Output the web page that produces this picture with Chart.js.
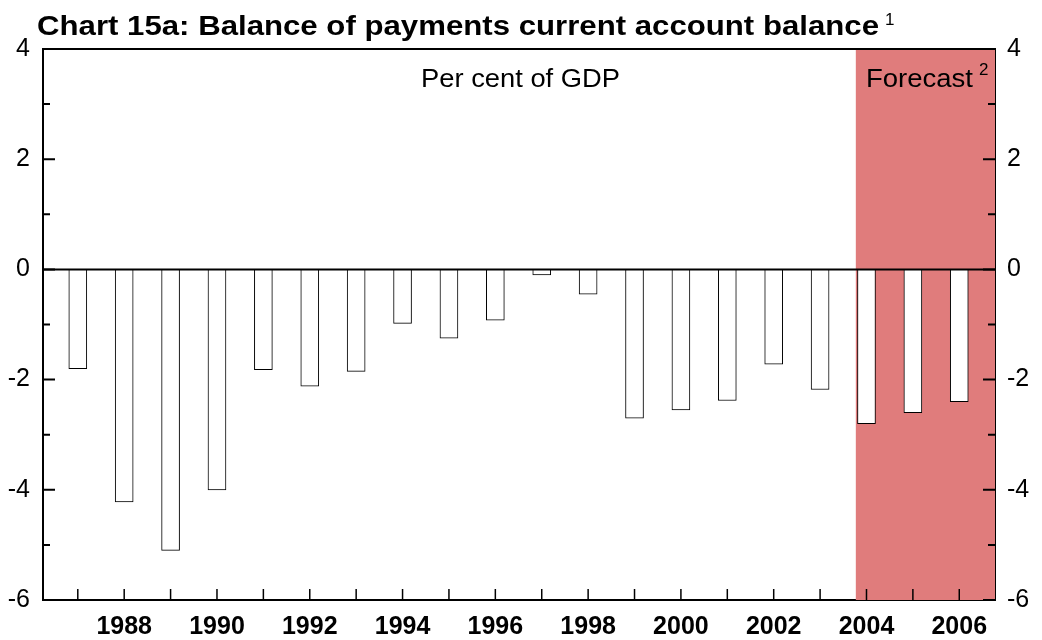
<!DOCTYPE html>
<html>
<head>
<meta charset="utf-8">
<script src="https://cdn.jsdelivr.net/npm/chart.js@4"></script>
<style>
  body { margin: 0; background: #fff; }
  #wrap { width: 1042px; height: 640px; position: relative; }
</style>
</head>
<body>
<div id="wrap"><canvas id="chart"></canvas></div>
<script>
// données
const years = [1987, 1988, 1989, 1990, 1991, 1992, 1993, 1994, 1995, 1996,
               1997, 1998, 1999, 2000, 2001, 2002, 2003, 2004, 2005, 2006];
const balance = [-1.8, -4.22, -5.1, -4.0, -1.82, -2.12, -1.85, -0.98, -1.25, -0.92,
                 -0.1, -0.45, -2.7, -2.55, -2.38, -1.72, -2.18, -2.8, -2.6, -2.4];
const yTicks = [-6, -4, -2, 0, 2, 4];
const yMinorTicks = [-5, -3, -1, 1, 3];
const forecastStart = 2003.77;

const titleText = 'Chart 15a: Balance of payments current account balance';
const unitText = 'Per cent of GDP';
const forecastText = 'Forecast';

const FONT = "'Liberation Sans', Arial, sans-serif";

// écrit un texte étiré horizontalement pour tenir dans une largeur donnée
function fitText(ctx, text, x, y, width) {
    const w = ctx.measureText(text).width;
    ctx.save();
    ctx.translate(x, y);
    ctx.scale(width / w, 1);
    ctx.fillText(text, 0, 0);
    ctx.restore();
}

// --- plugin pour la zone de prévision, les ticks internes et les textes ---
const decorPlugin = {
    id: 'decor',
    beforeDatasetsDraw(chart) {
        const { ctx, chartArea: a, scales } = chart;
        const x0 = scales.x.getPixelForValue(forecastStart);
        ctx.save();
        ctx.fillStyle = '#e07c7c';
        ctx.fillRect(x0, a.top, a.right - x0, a.bottom - a.top);
        ctx.restore();
    },
    afterDatasetsDraw(chart) {
        const { ctx, chartArea: a, scales } = chart;
        ctx.save();
        ctx.strokeStyle = '#000';
        // ligne du zéro
        const y0 = scales.y.getPixelForValue(0);
        ctx.lineWidth = 2;
        ctx.beginPath();
        ctx.moveTo(a.left, y0);
        ctx.lineTo(a.right, y0);
        ctx.stroke();
        // bordure haute
        ctx.beginPath();
        ctx.moveTo(a.left, a.top);
        ctx.lineTo(a.right, a.top);
        ctx.stroke();
        // ticks de l'axe x (vers l'intérieur)
        ctx.lineWidth = 1.5;
        years.forEach(v => {
            const x = scales.x.getPixelForValue(v);
            ctx.beginPath();
            ctx.moveTo(x, a.bottom);
            ctx.lineTo(x, a.bottom - 11);
            ctx.stroke();
        });
        // ticks des axes y, majeurs et mineurs
        const drawY = (vals, len) => {
            vals.forEach(v => {
                const y = scales.y.getPixelForValue(v);
                ctx.beginPath();
                ctx.moveTo(a.left, y);
                ctx.lineTo(a.left + len, y);
                ctx.moveTo(a.right, y);
                ctx.lineTo(a.right - len, y);
                ctx.stroke();
            });
        };
        ctx.lineWidth = 2;
        drawY(yTicks, 12);
        drawY(yMinorTicks, 7);
        ctx.restore();
    },
    afterDraw(chart) {
        const { ctx } = chart;
        ctx.save();
        ctx.fillStyle = '#000';
        ctx.textBaseline = 'alphabetic';
        ctx.textAlign = 'left';
        // titre
        ctx.font = 'bold 28px ' + FONT;
        fitText(ctx, titleText, 37, 35, 842);
        ctx.font = '17px ' + FONT;
        ctx.fillText('1', 885, 25);
        // textes dans le graphique
        ctx.font = '26px ' + FONT;
        fitText(ctx, unitText, 421, 87, 199);
        fitText(ctx, forecastText, 866, 87, 107);
        ctx.font = '17px ' + FONT;
        ctx.fillText('2', 979, 75);
        ctx.restore();
    }
};

const yAxisBase = {
    min: -6, max: 4,
    afterBuildTicks: s => { s.ticks = yTicks.map(v => ({ value: v })); },
    ticks: { color: '#000', font: { family: FONT, size: 25 } },
    grid: { display: false, drawTicks: false },
    border: { display: true, color: '#000', width: 2 }
};

new Chart(document.getElementById('chart'), {
    type: 'bar',
    data: {
        datasets: [{
            label: 'Current account balance',
            data: years.map((yr, i) => ({ x: yr, y: balance[i] })),
            backgroundColor: '#fff',
            borderColor: '#000',
            borderWidth: 1,
            borderSkipped: false,
            barThickness: 18
        }]
    },
    options: {
        responsive: true, maintainAspectRatio: false,
        animation: false,
        layout: { padding: { top: 49, left: 0, right: 0, bottom: 0 } },
        plugins: { legend: { display: false }, tooltip: { enabled: false } },
        scales: {
            x: {
                type: 'linear', min: 1986.25, max: 2006.77, offset: false,
                afterBuildTicks: s => { s.ticks = years.map(v => ({ value: v })); },
                ticks: {
                    autoSkip: false, maxRotation: 0, padding: 12, color: '#000',
                    font: { family: FONT, size: 25, weight: 'bold' },
                    callback: v => (v % 2 === 0 ? String(v) : '')
                },
                grid: { display: false, drawTicks: false, offset: false },
                border: { display: true, color: '#000', width: 2 },
                afterFit: s => { s.height = 40; }
            },
            y: Object.assign({}, yAxisBase, {
                position: 'left',
                ticks: Object.assign({}, yAxisBase.ticks, { padding: 13 }),
                afterFit: s => { s.width = 43; }
            }),
            y2: Object.assign({}, yAxisBase, {
                display: true,
                position: 'right',
                ticks: Object.assign({}, yAxisBase.ticks, { padding: 12 }),
                afterFit: s => { s.width = 47; }
            })
        }
    },
    plugins: [decorPlugin]
});
</script>
</body>
</html>
